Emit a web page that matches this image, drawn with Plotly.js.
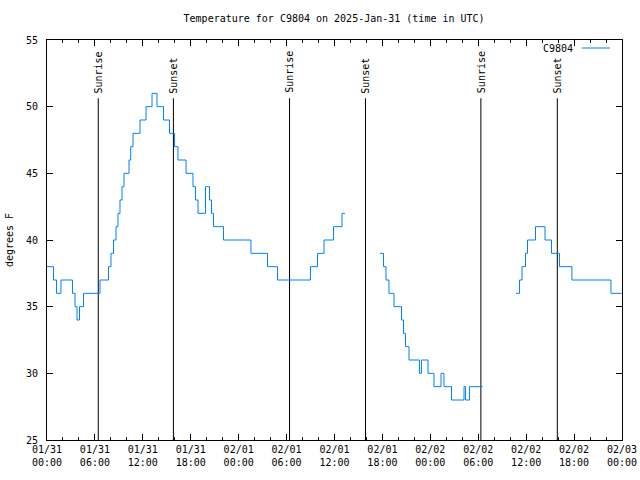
<!DOCTYPE html>
<html>
<head>
<meta charset="utf-8">
<script src="https://cdn.plot.ly/plotly-3.0.1.min.js"></script>
<style>html,body{margin:0;padding:0;background:#fff;}#chart{width:640px;height:480px;}</style>
</head>
<body>
<div id="chart"></div>
<script>
// Hours since 2025-01-31 00:00 UTC at which the reading changes, and the reading (deg F). null = gap.
const hours = [
  0, 0.81, 1.19, 1.75, 3.19, 3.51, 3.76, 4.07, 4.57, 6.64,
  7.70, 8.01, 8.33, 8.64, 8.89, 9.14, 9.39, 9.64, 10.27, 10.48,
  10.77, 11.65, 12.40, 13.15, 13.77, 14.59, 15.34, 15.97, 16.40, 17.41,
  18.28, 18.59, 18.91, 19.85, 20.35, 20.60, 20.85, 22.10, 25.54, 27.61,
  28.86, 32.99, 33.87, 34.69, 35.88, 36.94, 37.31, 37.5,
  41.70, 42.14, 42.45, 42.82, 43.45, 44.39, 44.64, 44.89, 45.33, 46.64,
  46.89, 47.71, 48.46, 49.34, 49.71, 50.65, 52.22, 52.41, 52.91, 54.56, 55.0,
  58.73, 59.17, 59.48, 59.92, 60.17, 61.17, 62.36, 63.17, 64.17, 65.73,
  70.62, 71.96
];
const temps = [
  38, 37, 36, 37, 36, 35, 34, 35, 36, 37,
  38, 39, 40, 41, 42, 43, 44, 45, 46, 47,
  48, 49, 50, 51, 50, 49, 48, 47, 46, 45,
  44, 43, 42, 44, 43, 42, 41, 40, 39, 38,
  37, 38, 39, 40, 41, 42, 42, null,
  39, 38, 37, 36, 35, 34, 33, 32, 31, 30,
  31, 30, 29, 30, 29, 28, 29, 28, 29, 29, null,
  36, 37, 38, 39, 40, 41, 40, 39, 38, 37,
  36, 36
];
const sunEventHours = [6.42, 15.83, 30.37, 39.88, 54.33, 63.90];
const sunEventLabels = ["Sunrise", "Sunset", "Sunrise", "Sunset", "Sunrise", "Sunset"];
const seriesName = "C9804";
const yTicks = [25, 30, 35, 40, 45, 50, 55];

const T0 = Date.UTC(2025, 0, 31, 0, 0, 0);
const H = 3600 * 1000;
const toT = h => T0 + h * H;

const sunTop = 50.63;
const sx = [], sy = [];
sunEventHours.forEach(h => { sx.push(toT(h), toT(h), null); sy.push(25, sunTop, null); });

const mono = "DejaVu Sans Mono, monospace";

const traces = [
  {x: sx, y: sy, mode: "lines", line: {color: "#000", width: 1}, hoverinfo: "skip", showlegend: false},
  {x: hours.map(toT), y: temps, name: seriesName, mode: "lines", line: {color: "rgb(0,128,255)", width: 1, shape: "hv"}, connectgaps: false, showlegend: false}
];

const annotations = sunEventHours.map((h, i) => ({
  x: toT(h), y: sunTop, xref: "x", yref: "y", text: sunEventLabels[i], textangle: -90,
  showarrow: false, xanchor: "center", yanchor: "bottom", yshift: 3, xshift: 0,
  font: {family: mono, size: 10, color: "#000"}
}));
annotations.push({
  x: 0.919, y: 0.98, xref: "paper", yref: "paper", text: seriesName, showarrow: false,
  xanchor: "right", yanchor: "middle", font: {family: mono, size: 10, color: "#000"}
});

const layout = {
  width: 640, height: 480,
  margin: {l: 47, r: 18, t: 40, b: 40},
  paper_bgcolor: "#fff", plot_bgcolor: "#fff",
  showlegend: false,
  title: {text: "Temperature for C9804 on 2025-Jan-31 (time in UTC)", x: 0.522, xanchor: "center", y: 0.962, yanchor: "middle",
          font: {family: mono, size: 10, color: "#000"}},
  xaxis: {
    type: "date", range: [toT(0), toT(72)], tick0: toT(0), dtick: 6 * H,
    tickformat: "%m/%d<br>%H:%M", ticks: "inside", ticklen: 6, tickcolor: "#000",
    showline: true, linecolor: "#000", linewidth: 1, mirror: "ticks", showgrid: false, zeroline: false,
    minor: {dtick: 2 * H, ticks: "inside", ticklen: 3, tickcolor: "#000", showgrid: false},
    tickfont: {family: mono, size: 10, color: "#000"}
  },
  yaxis: {
    range: [25, 55], tickvals: yTicks, ticktext: yTicks.map(String), ticks: "inside", ticklen: 6, tickcolor: "#000",
    showline: true, linecolor: "#000", linewidth: 1, mirror: "ticks", showgrid: false, zeroline: false,
    ticklabelstandoff: 6,
    tickfont: {family: mono, size: 10, color: "#000"},
    title: {text: "degrees F", standoff: 10, font: {family: mono, size: 10, color: "#000"}}
  },
  shapes: [
    {type: "line", xref: "paper", yref: "paper", x0: 0.930, x1: 0.979, y0: 0.98, y1: 0.98, line: {color: "rgb(0,128,255)", width: 1}}
  ],
  annotations: annotations
};

Plotly.newPlot("chart", traces, layout, {displayModeBar: false, staticPlot: true});
</script>
</body>
</html>
